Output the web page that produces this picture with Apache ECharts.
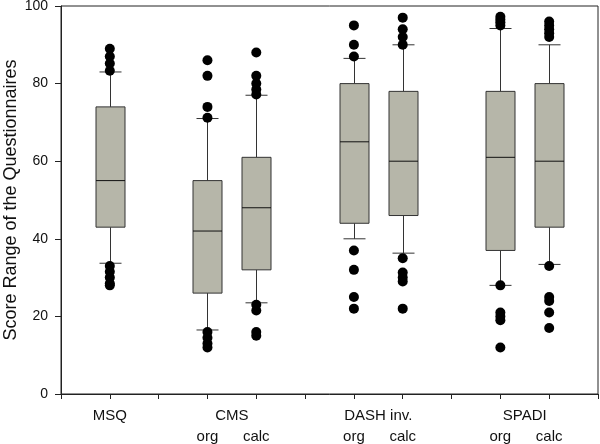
<!DOCTYPE html>
<html>
<head>
<meta charset="utf-8">
<script src="https://cdn.jsdelivr.net/npm/echarts@6/dist/echarts.min.js"></script>
<style>html,body{margin:0;padding:0;background:#fff}#c{width:600px;height:444px}</style>
</head>
<body>
<div id="c"></div>
<script>
// x positions (slots 0..11); boxes sit on slots 1,3,4,6,7,9,10
var xMin = 0, xMax = 11;
var xLabels = {1: 'MSQ', 3: '\norg', 3.5: 'CMS', 4: '\ncalc', 6: '\norg', 6.5: 'DASH inv.', 7: '\ncalc', 9: '\norg', 9.5: 'SPADI', 10: '\ncalc'};
var yTicks = [0, 20, 40, 60, 80, 100];

var boxSlot   = [1,    3,    4,    6,    7,    9,    10];
var whiskLow  = [33.7, 16.5, 23.5, 40,   36.3, 28,   33.4];
var q1        = [43,   26,   32,   44,   46,   37,   43];
var median    = [55,   42,   48,   65,   60,   61,   60];
var q3        = [74,   55,   61,   80,   78,   78,   80];
var whiskHigh = [83,   71,   77,   86.5, 90,   94.2, 90];

var outMSQ       = [89, 87, 85.2, 83.3, 33, 31.5, 30, 28.5, 28];
var outCMSorg    = [86, 82, 74, 71.2, 16, 14.5, 13, 12];
var outCMScalc   = [88, 82, 80, 78.5, 77.2, 23, 21.5, 16, 15];
var outDASHorg   = [95, 90, 87, 37, 32, 25, 22];
var outDASHcalc  = [97, 94, 92, 90, 35, 31.3, 30, 29, 22];
var outSPADIorg  = [97.2, 96.5, 95.8, 95, 28, 21, 20, 19, 12];
var outSPADIcalc = [96, 95, 94, 93, 92, 33, 25, 24, 21, 17];

var outliers = [outMSQ, outCMSorg, outCMScalc, outDASHorg, outDASHcalc, outSPADIorg, outSPADIcalc];

var boxData = boxSlot.map(function (s, i) {
  return [s, whiskLow[i], q1[i], median[i], q3[i], whiskHigh[i]];
});
var outData = [];
outliers.forEach(function (arr, i) {
  arr.forEach(function (v) { outData.push([boxSlot[i], v]); });
});

var FONT = '"Liberation Sans", Arial, sans-serif';
var BOX_W = 29, CAP_W = 22;

function renderBox(params, api) {
  var x = api.value(0);
  var pLow = api.coord([x, api.value(1)]);
  var pQ1 = api.coord([x, api.value(2)]);
  var pMed = api.coord([x, api.value(3)]);
  var pQ3 = api.coord([x, api.value(4)]);
  var pHigh = api.coord([x, api.value(5)]);
  var cx = Math.round(pQ1[0]) + 0.5;
  var lineStyle = { stroke: '#333', lineWidth: 1, fill: null };
  return {
    type: 'group',
    children: [
      { type: 'line', shape: { x1: cx, y1: pHigh[1], x2: cx, y2: pQ3[1] }, style: lineStyle },
      { type: 'line', shape: { x1: cx, y1: pQ1[1], x2: cx, y2: pLow[1] }, style: lineStyle },
      { type: 'line', shape: { x1: cx - CAP_W / 2, y1: pHigh[1], x2: cx + CAP_W / 2, y2: pHigh[1] }, style: lineStyle },
      { type: 'line', shape: { x1: cx - CAP_W / 2, y1: pLow[1], x2: cx + CAP_W / 2, y2: pLow[1] }, style: lineStyle },
      { type: 'rect', shape: { x: cx - BOX_W / 2, y: pQ3[1], width: BOX_W, height: pQ1[1] - pQ3[1] },
        style: { fill: '#b6b6a9', stroke: '#333', lineWidth: 1 } },
      { type: 'line', shape: { x1: cx - BOX_W / 2, y1: pMed[1], x2: cx + BOX_W / 2, y2: pMed[1] },
        style: { stroke: '#111', lineWidth: 1 } }
    ]
  };
}

var chart = echarts.init(document.getElementById('c'), null, { renderer: 'canvas' });
chart.setOption({
  animation: false,
  backgroundColor: '#fff',
  grid: { left: 61, right: 2, top: 6, bottom: 50, containLabel: false, outerBoundsMode: 'none',
    show: true, borderColor: '#222', borderWidth: 1, backgroundColor: 'transparent' },
  xAxis: [{
    type: 'value', min: xMin, max: xMax, interval: 1,
    axisLine: { show: true, onZero: false, lineStyle: { color: '#222', width: 1 } },
    axisTick: { show: true, inside: false, length: 5, lineStyle: { color: '#222' } },
    axisLabel: { show: false },
    splitLine: { show: false }
  }, {
    type: 'value', min: xMin, max: xMax, interval: 0.5, position: 'bottom',
    axisLine: { show: false }, axisTick: { show: false }, splitLine: { show: false },
    axisLabel: { margin: 11, fontSize: 15, lineHeight: 21, fontFamily: FONT, color: '#111',
      formatter: function (v) { return xLabels[v] || ''; } }
  }],
  yAxis: {
    type: 'value', min: yTicks[0], max: yTicks[yTicks.length - 1], interval: 20,
    name: 'Score Range of the Questionnaires', nameLocation: 'middle', nameGap: 41, nameMoveOverlap: false,
    nameTextStyle: { fontSize: 18, fontFamily: FONT, color: '#111' },
    axisLine: { show: true, onZero: false, lineStyle: { color: '#222', width: 1 } },
    axisTick: { show: true, inside: false, length: 6, lineStyle: { color: '#222' } },
    axisLabel: { margin: 13, fontSize: 14, fontFamily: FONT, color: '#111' },
    splitLine: { show: false }
  },
  series: [{
    type: 'custom', xAxisIndex: 0, renderItem: renderBox, data: boxData,
    encode: { x: 0, y: [1, 2, 3, 4, 5] }, z: 2
  }, {
    type: 'scatter', xAxisIndex: 0, data: outData, symbol: 'circle', symbolSize: 10,
    itemStyle: { color: '#000', opacity: 1 }, z: 3
  }]
});
</script>
</body>
</html>
